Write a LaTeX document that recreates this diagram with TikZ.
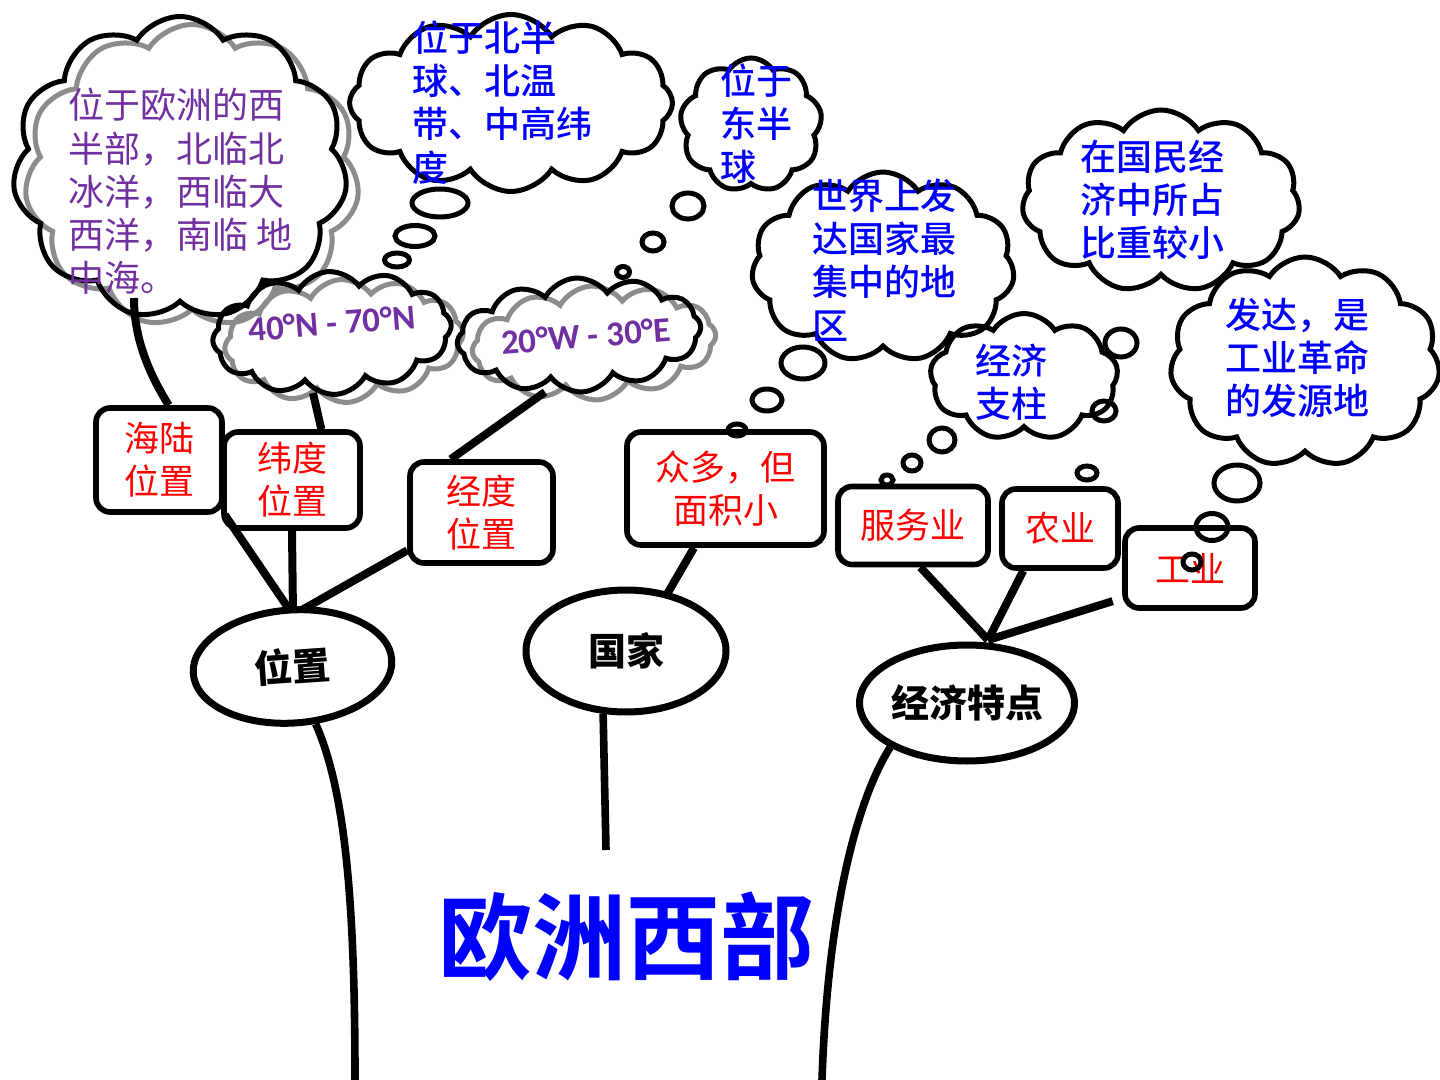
\documentclass[tikz,border=0pt]{standalone}
\usepackage{fontspec}
\usetikzlibrary{shapes.symbols,shapes.geometric}
\newfontfamily\cjk{Noto Sans CJK SC}
\newfontfamily\cjkm{Noto Sans CJK SC}[UprightFont=* Medium, BoldFont=* Bold]
\newfontfamily\calb{Carlito}
\definecolor{pur}{HTML}{7030A0}
\definecolor{blu}{HTML}{0000FF}
\definecolor{rd}{HTML}{FF0000}
\definecolor{gry}{HTML}{8C8C8C}
\begin{document}
\begin{tikzpicture}[x=0.5pt,y=-0.5pt,
  cloudb/.style={cloud, cloud puffs=11, cloud puff arc=115, cloud ignores aspect, draw=black, line width=2.5pt, inner sep=0pt},
  cloudg/.style={cloudb, draw=gry},
  boxn/.style={draw, line width=2.8pt, rounded corners=7pt, fill=white, align=center, text=rd, font=\cjk\fontsize{17.5}{21.5}\selectfont, inner sep=0pt},
  elln/.style={ellipse, draw, line width=3.5pt, fill=white, inner sep=0pt, font=\cjk\bfseries\fontsize{19}{22}\selectfont},
  bub/.style={ellipse, draw, line width=2.5pt, inner sep=0pt},
  branch/.style={line width=4pt},
  trunk/.style={line width=3.8pt},
  ctext/.style={anchor=west, align=left, inner sep=0pt, font=\cjk\fontsize{18}{21.6}\selectfont},
  btext/.style={ctext, text=blu, font=\cjkm\fontsize{18}{21.6}\selectfont},
  deg/.style={text=pur, font=\calb\bfseries\fontsize{17.5}{20}\selectfont, inner sep=0pt, rotate=4.5}
]
\useasboundingbox (0,0) rectangle (1440,1080);

% coordinates
\coordinate (jw) at (293,615);
\coordinate (jx) at (988,640);
\coordinate (cb1) at (134,298);
\coordinate (c40b) at (313,393);
\coordinate (c20b) at (545,392);
\coordinate (tl) at (355,1080);
\coordinate (tm) at (606,850);
\coordinate (tr) at (822,1080);

% boxes
\node[boxn, minimum width=63pt, minimum height=52pt] (hl) at (159,460) {海陆\\位置};
\node[boxn, minimum width=68pt, minimum height=48pt] (wd) at (292,480) {纬度\\位置};
\node[boxn, minimum width=71.5pt, minimum height=50.5pt] (jd) at (481.5,512.5) {经度\\位置};
\node[boxn, minimum width=98.5pt, minimum height=56.5pt] (zd) at (725.5,488.5) {众多，但\\面积小};
\node[boxn, minimum width=75pt, minimum height=39pt] (fw) at (913,525.5) {服务业};
\node[boxn, minimum width=58pt, minimum height=39.5pt] (ny) at (1060,528.5) {农业};
\node[boxn, minimum width=65pt, minimum height=40pt] (gy) at (1190,568) {工业};

% branch lines
\draw[branch] (jw) -- (hl.south east);
\draw[branch] (jw) -- (wd.south);
\draw[branch] (jw) -- (jd.207);
\draw[branch] (634,651) -- (zd.242);
\draw[branch] (jx) -- (fw.-80);
\draw[branch] (jx) -- (ny.-131);
\draw[branch, shorten >=5pt] (jx) -- (gy.204);

% ellipses
\node[elln, minimum width=99.5pt, minimum height=56.5pt, rotate=4] (wz) at (292.5,666.5) {位置};
\node[elln, minimum width=100pt, minimum height=61pt] (gj) at (626,651) {国家};
\node[elln, minimum width=102pt, minimum height=58pt] (jj) at (967,703) {经济特点};

\draw[trunk] (wz.-72) .. controls (345,790) and (355,900) .. (tl);
\draw[trunk] (gj.-110) -- (tm);
\draw[trunk] (jj.-150) .. controls (860,795) and (828,900) .. (tr);

% clouds
\node[cloudg, minimum width=167.5pt, minimum height=151.5pt] (bigg) at (192,176) {};
\node[cloudb, minimum width=167.5pt, minimum height=151.5pt] (big) at (180,168) {};
\node[cloudb, cloud puffs=12, minimum width=161.5pt, minimum height=88.5pt] (bb) at (511,103) {};
\node[cloudb, cloud puffs=9, minimum width=71pt, minimum height=67pt] (db) at (751,125) {};
\node[cloudg, cloud puffs=12, minimum width=119.5pt, minimum height=61.5pt, rotate=4] (c40g) at (344,341) {};
\node[cloudb, cloud puffs=12, minimum width=119.5pt, minimum height=61.5pt, rotate=4] (c40) at (332,333) {};
\node[cloudg, cloud puffs=12, minimum width=122pt, minimum height=57pt, rotate=4] (c20g) at (594,343) {};
\node[cloudb, cloud puffs=12, minimum width=122pt, minimum height=57pt, rotate=4] (c20) at (579,335) {};
\node[cloudb, minimum width=131.5pt, minimum height=95pt] (sj) at (883,267) {};
\node[cloudb, minimum width=139pt, minimum height=91pt] (gm) at (1161,201) {};
\node[cloudb, cloud puffs=9, minimum width=94pt, minimum height=63.5pt] (jz) at (1024,377) {};
\node[cloudb, minimum width=135pt, minimum height=105pt] (fd) at (1305,362) {};

% connectors up to clouds
\draw[branch] (hl.80) .. controls (150,375) and (134,340) .. (cb1);
\draw[branch] (wd.60) -- (c40b);
\draw[branch] (jd.120) -- (c20b);

% thought bubbles
\node[bub, minimum width=28pt, minimum height=14pt] (b1) at (440,203) {};
\node[bub, minimum width=20pt, minimum height=10.5pt] (b2) at (415,236) {};
\node[bub, minimum width=12.5pt, minimum height=7pt] (b3) at (397,260) {};
\node[bub, minimum width=16pt, minimum height=13pt] (b4) at (688,206) {};
\node[bub, minimum width=11pt, minimum height=9pt] (b5) at (653,242) {};
\node[bub, minimum width=6.5pt, minimum height=5.5pt] (b6) at (623,272) {};
\node[bub, minimum width=22pt, minimum height=16pt] (b7) at (803,363) {};
\node[bub, minimum width=15pt, minimum height=11pt] (b8) at (767,400) {};
\node[bub, minimum width=9pt, minimum height=6pt] (b9) at (737,430) {};
\node[bub, minimum width=13pt, minimum height=12pt] (b10) at (942,440) {};
\node[bub, minimum width=9pt, minimum height=8pt] (b11) at (912,463) {};
\node[bub, minimum width=6pt, minimum height=5pt] (b12) at (887,480) {};
\node[bub, minimum width=16pt, minimum height=14pt] (b13) at (1121,343) {};
\node[bub, minimum width=12pt, minimum height=10pt] (b14) at (1104,411) {};
\node[bub, minimum width=10pt, minimum height=7pt] (b15) at (1087,473) {};
\node[bub, minimum width=23pt, minimum height=18pt] (b16) at (1237,483) {};
\node[bub, minimum width=16pt, minimum height=13.5pt] (b17) at (1212,527) {};
\node[bub, minimum width=9pt, minimum height=8pt] (b18) at (1192,562) {};

% cloud texts
\node[ctext, text=pur] (t1) at (68,191.5) {位于欧洲的西\\半部，北临北\\冰洋，西临大\\西洋，南临 地\\中海。};
\node[btext] (t2) at (412,102.5) {位于北半\\球、北温\\带、中高纬\\度};
\node[btext] (t3) at (720,123.5) {位于\\东半\\球};
\node[btext] (t4) at (812,260) {世界上发\\达国家最\\集中的地\\区};
\node[btext] (t5) at (1080,200) {在国民经\\济中所占\\比重较小};
\node[btext] (t6) at (975,382.5) {经济\\支柱};
\node[btext] (t7) at (1225,358) {发达，是\\工业革命\\的发源地};
\node[deg] (t8) at (332,323) {40°N - 70°N};
\node[deg] (t9) at (586,336) {20°W - 30°E};

\node[font=\cjkm\bfseries\fontsize{47}{50}\selectfont, text=blu] (title) at (626,937) {欧洲西部};
\end{tikzpicture}
\end{document}
